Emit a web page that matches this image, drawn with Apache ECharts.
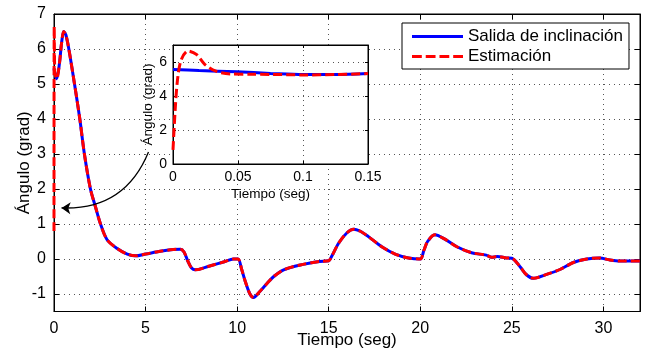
<!DOCTYPE html>
<html>
<head>
<meta charset="utf-8">
<script src="https://cdn.jsdelivr.net/npm/echarts@6/dist/echarts.min.js"></script>
<style>html,body{margin:0;padding:0;background:#fff}#c{width:646px;height:356px}</style>
</head>
<body>
<div id="c"></div>
<script>
// ---- main plot data ----
var tiempo =      [0, 0.05, 0.15, 0.3, 0.42, 0.53, 0.65, 0.81, 1.12, 1.41, 1.66, 1.99, 2.26, 2.54, 2.9, 3.45, 4.0, 4.45, 5.0, 5.8, 6.5, 6.9, 7.1, 7.3, 7.5, 7.72, 8.5, 9.3, 9.8, 10.05, 10.25, 10.45, 10.7, 10.9, 11.2, 11.63, 12.0, 12.54, 13.45, 14.5, 15.0, 15.18, 15.54, 16.0, 16.36, 16.7, 17.17, 17.9, 18.63, 19.36, 20.0, 20.2, 20.4, 20.8, 21.27, 22.0, 22.8, 23.6, 23.9, 24.2, 24.7, 25.0, 25.45, 25.8, 26.18, 26.9, 27.63, 28.36, 29.1, 29.8, 30.36, 30.9, 32];
var salida =      [5.45, 5.3, 5.15, 5.6, 6.2, 6.5, 6.4, 6.0, 5.0, 4.0, 3.0, 2.0, 1.5, 1.0, 0.55, 0.3, 0.14, 0.09, 0.14, 0.22, 0.27, 0.28, 0.2, -0.05, -0.25, -0.31, -0.2, -0.08, 0.0, 0.0, -0.3, -0.65, -1.0, -1.1, -0.95, -0.7, -0.5, -0.31, -0.17, -0.07, -0.05, 0.09, 0.45, 0.75, 0.85, 0.8, 0.64, 0.35, 0.14, 0.03, 0.0, 0.25, 0.5, 0.69, 0.59, 0.35, 0.18, 0.11, 0.05, 0.07, 0.03, 0.02, -0.22, -0.45, -0.55, -0.44, -0.3, -0.1, 0.0, 0.03, -0.03, -0.06, -0.06];
var tiempoEst =   [0, 0.004, 0.0115, 0.025, 0.044].concat(tiempo.slice(1));
var estimacionIni = [0.8, 5.2, 6.65, 5.86, 5.3];
var estimacion = estimacionIni.concat(salida.slice(1));
var xTicks = [0, 5, 10, 15, 20, 25, 30];
var yTicks = [-1, 0, 1, 2, 3, 4, 5, 6, 7];

// ---- inset data ----
var insetTiempo =     [0, 0.02, 0.049, 0.075, 0.1, 0.125, 0.15];
var insetSalida =     [5.56, 5.5, 5.42, 5.33, 5.26, 5.27, 5.33];
var insetTiempoEst =  [0, 0.002, 0.0038, 0.0064, 0.0115, 0.018, 0.0244, 0.033, 0.044, 0.06, 0.075, 0.1, 0.125, 0.15];
var insetEstimacion = [0.83, 3.6, 5.17, 6.15, 6.65, 6.45, 5.86, 5.46, 5.3, 5.28, 5.27, 5.24, 5.26, 5.32];
var insetXTicks = [0, 0.05, 0.1, 0.15];
var insetYTicks = [0, 2, 4, 6];

// ---- arrow annotation (data coords of main plot) ----
var flecha = [[5.16, 3.06], [0.41, 1.46]];

function pairs(xs, ys) { return xs.map(function (x, i) { return [x, ys[i]]; }); }

var FONT = 'Liberation Sans, Arial, Helvetica, sans-serif';
var gridLine = { show: true, lineStyle: { type: [1, 4], color: '#555', width: 1 } };
var ICON_SOLID = 'path://M0,0h52v3h-52z';
var ICON_DASH = 'path://M0,0h10v3h-10z M14,0h10v3h-10z M28,0h10v3h-10z M42,0h10v3h-10z';

var chart = echarts.init(document.getElementById('c'), null, { renderer: 'canvas' });
chart.setOption({
  animation: false,
  textStyle: { fontFamily: FONT },
  legend: {
    orient: 'vertical',
    left: 402, top: 23,
    padding: [5, 6, 4, 10],
    itemWidth: 51, itemHeight: 14, itemGap: 3,
    borderColor: '#000', borderWidth: 1, borderRadius: 0,
    backgroundColor: '#fff',
    textStyle: { fontSize: 17, color: '#000', fontFamily: FONT },
    data: [{ name: 'Salida de inclinación', icon: ICON_SOLID }, { name: 'Estimación', icon: ICON_DASH }],
    z: 10
  },
  grid: [
    { left: 54, right: 6, top: 14, bottom: 44.5, show: true, borderColor: '#000', borderWidth: 1, backgroundColor: '#fff', outerBoundsMode: 'none', containLabel: false },
    { left: 173, top: 45, width: 195, height: 119, show: true, borderColor: '#000', borderWidth: 1, backgroundColor: '#fff', z: 5, outerBoundsMode: 'none', containLabel: false }
  ],
  xAxis: [
    { gridIndex: 0, type: 'value', min: 0, max: 32, position: 'bottom',
      name: 'Tiempo (seg)', nameLocation: 'middle', nameGap: 20, nameMoveOverlap: false,
      nameTextStyle: { fontSize: 17, color: '#000', fontFamily: FONT },
      axisLine: { show: true, onZero: false, lineStyle: { color: '#000', width: 1 } },
      axisTick: { show: true, inside: true, length: 5, customValues: xTicks, lineStyle: { color: '#000' } },
      axisLabel: { customValues: xTicks, fontSize: 16, color: '#000', margin: 9, fontFamily: FONT },
      splitLine: gridLine },
    { gridIndex: 0, type: 'value', min: 0, max: 32, position: 'top',
      axisLine: { show: true, onZero: false, lineStyle: { color: '#000' } },
      axisTick: { show: true, inside: true, length: 5, customValues: xTicks, lineStyle: { color: '#000' } },
      axisLabel: { show: false }, splitLine: { show: false } },
    { gridIndex: 1, type: 'value', min: 0, max: 0.15, interval: 0.05, z: 6,
      name: 'Tiempo (seg)', nameLocation: 'middle', nameGap: 23, nameMoveOverlap: false,
      nameTextStyle: { fontSize: 13.5, color: '#000', fontFamily: FONT },
      axisLine: { show: true, onZero: false, lineStyle: { color: '#000' } },
      axisTick: { show: true, inside: true, length: 3, lineStyle: { color: '#000' } },
      axisLabel: { fontSize: 14, color: '#000', margin: 6, fontFamily: FONT },
      splitLine: gridLine },
    { gridIndex: 1, type: 'value', min: 0, max: 0.15, interval: 0.05, position: 'top', z: 6,
      axisLine: { show: true, onZero: false, lineStyle: { color: '#000' } },
      axisTick: { show: true, inside: true, length: 3, lineStyle: { color: '#000' } },
      axisLabel: { show: false }, splitLine: { show: false } }
  ],
  yAxis: [
    { gridIndex: 0, type: 'value', min: -1.5, max: 7, position: 'left',
      name: 'Ángulo (grad)', nameLocation: 'middle', nameGap: 21, nameRotate: 90, nameMoveOverlap: false,
      nameTextStyle: { fontSize: 17, color: '#000', fontFamily: FONT },
      axisLine: { show: true, onZero: false, lineStyle: { color: '#000', width: 1 } },
      axisTick: { show: true, inside: true, length: 5, customValues: yTicks, lineStyle: { color: '#000' } },
      axisLabel: { customValues: yTicks, fontSize: 16, color: '#000', margin: 8, fontFamily: FONT },
      splitLine: gridLine },
    { gridIndex: 0, type: 'value', min: -1.5, max: 7, position: 'right',
      axisLine: { show: true, onZero: false, lineStyle: { color: '#000' } },
      axisTick: { show: true, inside: true, length: 5, customValues: yTicks, lineStyle: { color: '#000' } },
      axisLabel: { show: false }, splitLine: { show: false } },
    { gridIndex: 1, type: 'value', min: 0, max: 7, position: 'left', z: 6,
      name: 'Ángulo (grad)', nameLocation: 'middle', nameGap: 18, nameRotate: 90, nameMoveOverlap: false,
      nameTextStyle: { fontSize: 13.5, color: '#000', fontFamily: FONT },
      axisLine: { show: true, onZero: false, lineStyle: { color: '#000' } },
      axisTick: { show: true, inside: true, length: 3, customValues: insetYTicks, lineStyle: { color: '#000' } },
      axisLabel: { customValues: insetYTicks, fontSize: 14, color: '#000', margin: 6, fontFamily: FONT },
      splitLine: gridLine },
    { gridIndex: 1, type: 'value', min: 0, max: 7, position: 'right', z: 6,
      axisLine: { show: true, onZero: false, lineStyle: { color: '#000' } },
      axisTick: { show: true, inside: true, length: 3, customValues: insetYTicks, lineStyle: { color: '#000' } },
      axisLabel: { show: false }, splitLine: { show: false } }
  ],
  series: [
    { name: 'Salida de inclinación', type: 'line', xAxisIndex: 0, yAxisIndex: 0,
      data: pairs(tiempo, salida), showSymbol: false, symbol: 'none', smooth: 0.3,
      lineStyle: { color: '#0000ff', width: 3 }, itemStyle: { color: '#0000ff' }, z: 3 },
    { name: 'Estimación', type: 'line', xAxisIndex: 0, yAxisIndex: 0,
      data: pairs(tiempoEst, estimacion), showSymbol: false, symbol: 'none', smooth: 0.3,
      lineStyle: { color: '#ff0000', width: 3, type: [9, 4] }, itemStyle: { color: '#ff0000' }, z: 4 },
    { name: 'flecha', type: 'lines', coordinateSystem: 'cartesian2d', xAxisIndex: 0, yAxisIndex: 0,
      data: [{ coords: flecha }], symbol: ['none', 'arrow'], symbolSize: 9,
      lineStyle: { color: '#000', width: 1.3, curveness: 0.35, opacity: 1 }, z: 5, silent: true },
    { name: 'Salida de inclinación', type: 'line', xAxisIndex: 2, yAxisIndex: 2,
      data: pairs(insetTiempo, insetSalida), showSymbol: false, symbol: 'none', smooth: 0.3,
      lineStyle: { color: '#0000ff', width: 3 }, itemStyle: { color: '#0000ff' }, z: 7 },
    { name: 'Estimación', type: 'line', xAxisIndex: 2, yAxisIndex: 2,
      data: pairs(insetTiempoEst, insetEstimacion), showSymbol: false, symbol: 'none', smooth: 0.3,
      lineStyle: { color: '#ff0000', width: 3, type: [9, 4] }, itemStyle: { color: '#ff0000' }, z: 8 }
  ]
});
</script>
</body>
</html>
